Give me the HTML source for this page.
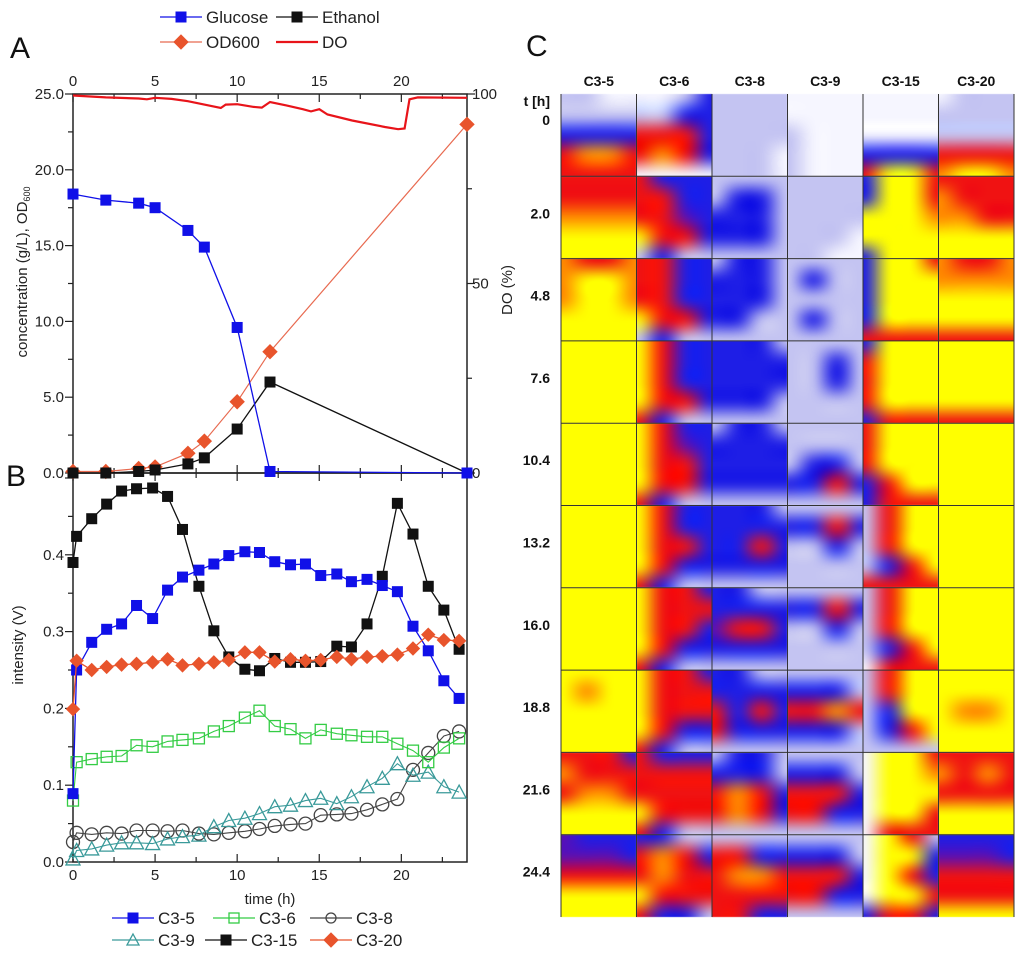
<!DOCTYPE html>
<html><head><meta charset="utf-8"><style>
body{margin:0;background:#fff;width:1024px;height:960px;overflow:hidden;font-family:"Liberation Sans",sans-serif}
svg,canvas{position:absolute;left:0;top:0}
</style></head><body>
<canvas id="heat" width="1024" height="960"></canvas>
<svg id="fig" width="1024" height="960" viewBox="0 0 1024 960"></svg>
<script>
// ---- Panel A data ----
const tA = [0,2,4,5,7,8,10,12,24];
const glucose = [18.4,18.0,17.8,17.5,16.0,14.9,9.6,0.1,0.0];
const ethanol = [0.0,0.0,0.1,0.2,0.6,1.0,2.9,6.0,0.0];
const od600 = [0.1,0.1,0.3,0.4,1.3,2.1,4.7,8.0,23.0];
const tDO = [0,2,4,4.5,5,6,7,8,9,9.3,10,11,11.5,12,13,14,14.5,15,15.5,17,19,19.8,20.2,20.5,21,24];
const doPct = [99.6,99.1,98.8,98.6,99.0,98.7,98.1,97.2,96.3,97.2,97.3,96.6,96.4,97.9,97.0,96.0,95.4,96.0,94.6,93.0,91.3,90.7,90.9,98.6,99.1,99.0];
const xTicksTop = [0,5,10,15,20];
const yTicksA = [0,5,10,15,20,25];
const yTicksDO = [0,50,100];
// ---- Panel B data ----
const tB = [0,0.22,1.14,2.05,2.96,3.87,4.85,5.76,6.67,7.67,8.58,9.49,10.47,11.36,12.29,13.25,14.16,15.09,16.07,16.96,17.91,18.84,19.76,20.71,21.64,22.59,23.52];
const c35 = [0.089,0.25,0.286,0.303,0.31,0.334,0.317,0.354,0.371,0.38,0.388,0.399,0.404,0.403,0.391,0.387,0.388,0.373,0.375,0.365,0.368,0.36,0.352,0.307,0.275,0.236,0.213];
const c36 = [0.08,0.13,0.134,0.137,0.138,0.152,0.15,0.157,0.159,0.161,0.17,0.177,0.188,0.197,0.177,0.173,0.161,0.172,0.167,0.165,0.163,0.163,0.154,0.145,0.13,0.149,0.161];
const c38 = [0.026,0.038,0.036,0.038,0.037,0.041,0.041,0.04,0.041,0.037,0.036,0.038,0.04,0.043,0.047,0.049,0.05,0.061,0.062,0.063,0.068,0.075,0.082,0.12,0.142,0.164,0.17];
const c39 = [0.004,0.015,0.017,0.022,0.025,0.025,0.024,0.03,0.033,0.035,0.046,0.054,0.057,0.063,0.072,0.074,0.08,0.083,0.076,0.085,0.098,0.109,0.128,0.113,0.117,0.098,0.091];
const c315 = [0.39,0.424,0.447,0.466,0.483,0.486,0.487,0.476,0.433,0.359,0.301,0.267,0.251,0.249,0.265,0.26,0.26,0.261,0.281,0.28,0.31,0.372,0.467,0.427,0.359,0.328,0.277];
const c320 = [0.199,0.262,0.25,0.254,0.257,0.258,0.26,0.264,0.256,0.258,0.26,0.263,0.273,0.273,0.261,0.264,0.262,0.263,0.267,0.264,0.267,0.268,0.27,0.278,0.296,0.289,0.288];
const yTicksB = [0,0.1,0.2,0.3,0.4];
// ---- Panel C data ----
const heatCols = ["C3-5","C3-6","C3-8","C3-9","C3-15","C3-20"];
const heatRows = ["0","2.0","4.8","7.6","10.4","13.2","16.0","18.8","21.6","24.4"];
const heatCells = [
 ["llww/llll/bbbb/roor/rrrr","wwlb/llbb/rrrb/rorb/wwww","llll/llll/llll/lllw/lllw","wwww/wwww/lwww/lwww/lwww","wwww/wwww/wwww/bbbb/ryyr","wlll/llll/llll/rrrr/oyyo"],
 ["rrrr/rrrr/oooo/yyyy/yyyy","rbbb/rrbb/rrpb/yrrb/lbll","llll/lbbl/bbbl/bbbl/llll","llll/llll/llll/lllw/llww","byyr/byyr/yyyo/yyyy/byyy","rrrr/orrr/oorr/yyyy/yyyy"],
 ["orro/oyyo/oyyo/yyyy/yyyy","rrbb/rrbb/rrbb/yrrb/lbll","lbbl/bbbl/bbbl/bbll/llll","llll/lbll/llll/lbll/llll","byyr/byyy/byyy/byyy/rrrr","orro/oooo/yyyy/yyyy/rrrr"],
 ["yyyy/yyyy/yyyy/yyyy/yyyy","yrbb/yrbb/yrbb/yrrb/rbll","bbbl/bbbb/bbbb/bbbl/llll","llll/llbl/llbl/llll/llll","byyy/ryyy/ryyy/ryyy/brrr","yyyy/yyyy/yyyy/yyyy/rrrr"],
 ["yyyy/yyyy/yyyy/yyyy/yyyy","yrbb/yrpb/yrrb/yrrb/rbll","lbbl/bbbb/bbbb/bbbb/llll","llll/llll/lbbl/bbrb/llll","ryyy/ryyy/ryyy/bryy/brrr","yyyy/yyyy/yyyy/yyyy/yyyy"],
 ["yyyy/yyyy/yyyy/yyyy/yyyy","yrbb/yrbb/yrrb/yrbb/rbll","bbbl/bbbb/bbrb/bbbb/llll","llll/bbrb/llbl/llll/llll","lryy/lryy/lryy/lbry/rrrr","yyyy/yyyy/yyyy/yyyy/yyyy"],
 ["yyyy/yyyy/yyyy/yyyy/yyyy","yrrb/yrrr/yrrb/yrbb/rbll","bbll/bbbb/prrb/bbbb/llll","llll/bbrb/llbl/llll/llll","lryy/lryy/lryy/lbry/wrrr","yyyy/yyyy/yyyy/yyyy/yyyy"],
 ["yyyy/yoyy/yyyy/yyyy/yyyy","yrrb/yrrr/yrrr/yrbb/rbll","bbll/bbbb/rbrb/rbbb/llll","llll/bbbl/rror/bbbl/llll","lryy/lryy/lbyy/lbry/llll","yyyy/yyyy/yooy/yyyy/yyyy"],
 ["rrrb/orrr/roor/yyyy/yyyy","rbbb/rrrr/rrrr/yrrr/rbll","lbbl/bbbl/rorb/rorb/llll","llll/bbbl/rrrb/rrbb/llll","wyyr/wyyo/wyyy/wyyr/wrrr","rrrr/oror/rrrr/yyyy/yyyy"],
 ["pbbb/pppb/rrrr/yyyy/yyyy","bbll/rorb/rorr/yrrr/rbbl","llll/rrbb/roor/rrrr/rrbb","llll/bbbl/rrrb/rrbb/llll","wyrl/wyyb/wyrb/wyyr/brrb","bbbb/pppb/rrrr/rrrr/yyyy"]
];

const NS='http://www.w3.org/2000/svg';
const svg=document.getElementById('fig');
function mk(tag,attrs,parent){const e=document.createElementNS(NS,tag);for(const k in attrs)e.setAttribute(k,attrs[k]);(parent||svg).appendChild(e);return e;}
function txt(x,y,s,size,anchor,extra,parent){const e=mk('text',Object.assign({x:x,y:y,'font-size':size,'text-anchor':anchor||'start',fill:'#222'},extra||{}),parent);e.textContent=s;return e;}

const X0=73,X1=467;
const xs=t=>X0+t*(X1-X0)/24;
const yA=v=>473-v*(379/25);
const yD=v=>473-v*3.79;
const yB=v=>862-v*768;

let e;
e=txt(10,58,'A',30,'start',{fill:'#111'});


e=txt(6,486,'B',30,'start',{fill:'#111'});


e=txt(526,56,'C',30,'start',{fill:'#111'});



e=mk('rect',{x:X0,y:94,width:X1-X0,height:379,fill:'none',stroke:'#222','stroke-width':1.5});


e=mk('rect',{x:X0,y:473,width:X1-X0,height:389,fill:'none',stroke:'#222','stroke-width':1.5});



for(let t=0;t<=24;t+=2.5){
  const x=xs(t), maj=(t%5===0), L=maj?8:5;
  mk('line',{x1:x,y1:94,x2:x,y2:94+L,stroke:'#222','stroke-width':1.2});
  mk('line',{x1:x,y1:473-L,x2:x,y2:473+L,stroke:'#222','stroke-width':1.2});
  mk('line',{x1:x,y1:862,x2:x,y2:862-L,stroke:'#222','stroke-width':1.2});
}
xTicksTop.forEach(t=>{
  e=txt(xs(t),86,String(t),15,'middle');
  
  
  e=txt(xs(t),880,String(t),15,'middle');
  
  
});
e=txt(270,904,'time (h)',15,'middle');



for(let v=0;v<=25;v+=2.5){const L=(v%5===0)?8:5;mk('line',{x1:X0-L,y1:yA(v),x2:X0,y2:yA(v),stroke:'#222','stroke-width':1.2});}
yTicksA.forEach(v=>{
  e=txt(64,yA(v)+5,v.toFixed(1),15,'end');
  
  
});
for(let v=0;v<=100;v+=25){const L=(v%50===0)?8:5;mk('line',{x1:X1,y1:yD(v),x2:X1+L,y2:yD(v),stroke:'#222','stroke-width':1.2});}
yTicksDO.forEach(v=>{
  e=txt(472,yD(v)+5,String(v),15,'start');
  
  
});
e=txt(0,0,'concentration (g/L), OD',15,'middle',{transform:'translate(27,272) rotate(-90)'});


const sub=mk('tspan',{'font-size':9,dy:3},e);sub.textContent='600';
e=txt(0,0,'DO (%)',15,'middle',{transform:'translate(512,290) rotate(-90)'});



for(let v=0;v<=0.5001;v+=0.05){const L=(Math.round(v*100)%10===0)?8:5;mk('line',{x1:X0-L,y1:yB(v),x2:X0,y2:yB(v),stroke:'#222','stroke-width':1.2});}
yTicksB.forEach(v=>{
  e=txt(64,yB(v)+5,v.toFixed(1),15,'end');
  
  
});
e=txt(0,0,'intensity (V)',15,'middle',{transform:'translate(23,645) rotate(-90)'});



function marker(kind,x,y,color,size,g){
  const s=size/2;
  if(kind==='sq') return mk('rect',{x:x-s,y:y-s,width:size,height:size,fill:color,stroke:color},g);
  if(kind==='osq') return mk('rect',{x:x-s,y:y-s,width:size,height:size,fill:'none',stroke:color,'stroke-width':1.3},g);
  if(kind==='circ') return mk('circle',{cx:x,cy:y,r:s,fill:'none',stroke:color,'stroke-width':1.3},g);
  if(kind==='tri') return mk('path',{d:`M${x},${y-s-1}L${x+s+1},${y+s}L${x-s-1},${y+s}Z`,fill:'none',stroke:color,'stroke-width':1.3},g);
  if(kind==='dia') return mk('path',{d:`M${x},${y-s}L${x+s},${y}L${x},${y+s}L${x-s},${y}Z`,fill:color,stroke:color},g);
}
function series(name,ts,vs,ysc,color,kind,size,lw,lineColor){
  const g=mk('g',{});
  
  
  const d=ts.map((t,i)=>(i?'L':'M')+xs(t).toFixed(1)+','+ysc(vs[i]).toFixed(1)).join('');
  mk('path',{d:d,fill:'none',stroke:lineColor||color,'stroke-width':lw||1.3},g);
  if(kind) ts.forEach((t,i)=>{const m=marker(kind,xs(t),ysc(vs[i]),color,size,g);
    
    });
}
series('do-line',tDO,doPct,yD,'#e8141a',null,0,2.2);
series('od600-series',tA,od600,yA,'#e8542c','dia',14,1.2,'#e86a50');
series('ethanol-series',tA,ethanol,yA,'#111','sq',10,1.3);
series('glucose-series',tA,glucose,yA,'#1010e8','sq',10,1.3);
series('c3-8-series',tB,c38,yB,'#444','circ',13,1.1);
series('c3-9-series',tB,c39,yB,'#3a9a9a','tri',12,1.1);
series('c3-6-series',tB,c36,yB,'#33cc44','osq',11,1.1);
series('c3-15-series',tB,c315,yB,'#111','sq',10,1.3);
series('c3-5-series',tB,c35,yB,'#1010e8','sq',10,1.3);
series('c3-20-series',tB,c320,yB,'#e8542c','dia',13,1.3);

function legend(x,y,kind,color,label,name,lineOnly,lc){
  const g=mk('g',{});
  
  
  mk('line',{x1:x,y1:y,x2:x+42,y2:y,stroke:lc||color,'stroke-width':lineOnly?2.2:1.3},g);
  if(kind) marker(kind,x+21,y,color,kind==='dia'?14:10,g);
  txt(x+46,y+6,label,17,'start',{},g);
}
legend(160,17,'sq','#1010e8','Glucose','legend-glucose');
legend(276,17,'sq','#111','Ethanol','legend-ethanol');
legend(160,42,'dia','#e8542c','OD600','legend-od600',false,'#e86a50');
legend(276,42,null,'#e8141a','DO','legend-do',true);
legend(112,918,'sq','#1010e8','C3-5','legend-c3-5');
legend(213,918,'osq','#33cc44','C3-6','legend-c3-6');
legend(310,918,'circ','#444','C3-8','legend-c3-8');
legend(112,940,'tri','#3a9a9a','C3-9','legend-c3-9');
legend(205,940,'sq','#111','C3-15','legend-c3-15');
legend(310,940,'dia','#e8542c','C3-20','legend-c3-20');

// Panel C heatmap (canvas, smoothed upscaling of small cell grids)
const colorMap={w:'#f6f6ff',l:'#c4c4f2',b:'#1e1ee6',p:'#5a10b4',r:'#f01212',o:'#ff8c00',y:'#ffff00'};
const HX0=561,HY0=94,CW=75.5,RH=82.3;
const ctx=document.getElementById('heat').getContext('2d');
ctx.imageSmoothingEnabled=true;
ctx.imageSmoothingQuality='high';
heatCells.forEach((row,i)=>row.forEach((cell,j)=>{
  const rows=cell.split('/');const nc=rows[0].length,nr=rows.length;
  const sm=document.createElement('canvas');sm.width=nc;sm.height=nr;
  const sc=sm.getContext('2d');
  rows.forEach((s,k)=>[...s].forEach((ch,m)=>{sc.fillStyle=colorMap[ch];sc.fillRect(m,k,1,1);}));
  // pad by drawing the small image slightly beyond the cell then clip to avoid edge fade
  const x=HX0+CW*j,y=HY0+RH*i;
  ctx.save();ctx.beginPath();ctx.rect(x,y,CW,RH);ctx.clip();
  const pw=CW/nc*0.5,ph=RH/nr*0.5;
  ctx.drawImage(sm,0,0,nc,nr,x-pw,y-ph,CW+2*pw,RH+2*ph);
  ctx.restore();
}));
heatCols.forEach((c,j)=>{
  e=txt(HX0+CW*j+CW/2,86,c,14,'middle',{'font-weight':'bold',fill:'#111'});
  
  
});
e=txt(550,106,'t [h]',14,'end',{'font-weight':'bold',fill:'#111'});


heatRows.forEach((r,i)=>{
  e=txt(550,HY0+RH*i+(i===0?31:42),r,14,'end',{'font-weight':'bold',fill:'#111'});
  
  
});
for(let j=0;j<=6;j++){e=mk('line',{x1:HX0+CW*j,y1:HY0,x2:HX0+CW*j,y2:HY0+RH*10,stroke:'#333','stroke-width':1});
  
  }
for(let i=1;i<10;i++){e=mk('line',{x1:HX0,y1:HY0+RH*i,x2:HX0+CW*6,y2:HY0+RH*i,stroke:'#333','stroke-width':1});
  
  }
</script>
</body></html>
